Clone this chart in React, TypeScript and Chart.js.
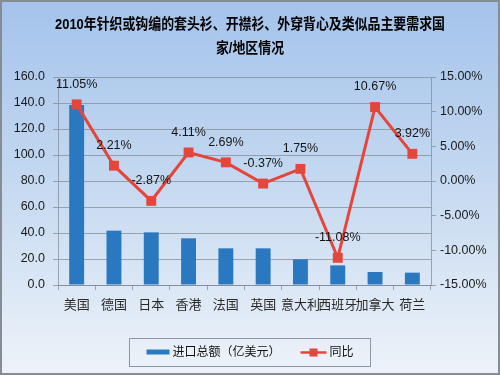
import React, { useEffect, useRef } from 'react';
import { Chart, registerables } from 'chart.js';

Chart.register(...registerables);

const titleLines = ['2010年针织或钩编的套头衫、开襟衫、外穿背心及类似品主要需求国', '家/地区情况'];
const categories = ['美国', '德国', '日本', '香港', '法国', '英国', '意大利', '西班牙', '加拿大', '荷兰'];
const importValues = [138.5, 41.8, 40.5, 35.9, 28.2, 28.2, 19.8, 15.1, 10.0, 9.5];
const yoyValues = [11.05, 2.21, -2.87, 4.11, 2.69, -0.37, 1.75, -11.08, 10.67, 3.92];
const seriesNames = ['进口总额（亿美元）', '同比'];
const leftAxis = { min: 0, max: 160, step: 20 };
const rightAxis = { min: -15, max: 15, step: 5 };

const FONT = "'Liberation Sans', 'Noto Sans CJK SC', sans-serif";
const BAR_COLOR = '#2a79c0';
const LINE_COLOR = '#e5463c';
const GRID_COLOR = 'rgba(125,135,148,0.7)';

const decorPlugin = {
  id: 'decor',
  beforeDraw(chart: any) {
    const { ctx, width, height } = chart;
    ctx.save();
    const g = ctx.createLinearGradient(0, 0, 0, height);
    g.addColorStop(0, '#a4c3eb');
    g.addColorStop(0.45, '#c2d7f0');
    g.addColorStop(1, '#eef3f9');
    ctx.fillStyle = g;
    ctx.fillRect(0, 0, width, height);
    ctx.restore();
  },
  afterDatasetsDraw(chart: any) {
    const { ctx } = chart;
    const meta = chart.getDatasetMeta(1);
    ctx.save();
    ctx.font = `12.5px ${FONT}`;
    ctx.fillStyle = '#151515';
    ctx.textAlign = 'center';
    ctx.textBaseline = 'middle';
    meta.data.forEach((pt: any, i: number) => {
      ctx.fillText(yoyValues[i].toFixed(2) + '%', pt.x, pt.y - 20);
    });
    ctx.restore();
  },
  afterDraw(chart: any) {
    const { ctx, width, height } = chart;
    ctx.save();
    // title
    ctx.fillStyle = '#000';
    ctx.textAlign = 'center';
    ctx.textBaseline = 'middle';
    ctx.font = `bold 15px ${FONT}`;
    const sx = 0.86;
    titleLines.forEach((line, i) => {
      ctx.save();
      ctx.translate(width / 2, 25 + i * 24);
      ctx.scale(sx, 1);
      ctx.fillText(line, 0, 0);
      ctx.restore();
    });
    // legend
    ctx.font = `12px ${FONT}`;
    ctx.textAlign = 'left';
    const w1 = ctx.measureText(seriesNames[0]).width;
    const w2 = ctx.measureText(seriesNames[1]).width;
    const sym1 = 23, sym2 = 26, gap = 3, itemGap = 20, padX = 17;
    const total = sym1 + gap + w1 + itemGap + sym2 + gap + w2;
    const boxW = total + padX * 2;
    const boxX = Math.round(width / 2 - boxW / 2) + 0.5;
    const boxY = 338.5;
    const boxH = 28;
    ctx.strokeStyle = '#8d97a3';
    ctx.lineWidth = 1;
    ctx.strokeRect(boxX, boxY, boxW, boxH);
    const cy = boxY + boxH / 2;
    let x = boxX + padX;
    ctx.fillStyle = BAR_COLOR;
    ctx.fillRect(x, cy - 3, sym1, 5);
    x += sym1 + gap;
    ctx.fillStyle = '#111';
    ctx.fillText(seriesNames[0], x, cy);
    x += w1 + itemGap;
    ctx.strokeStyle = LINE_COLOR;
    ctx.lineWidth = 2.5;
    ctx.beginPath();
    ctx.moveTo(x, cy);
    ctx.lineTo(x + sym2, cy);
    ctx.stroke();
    ctx.fillStyle = LINE_COLOR;
    ctx.fillRect(x + sym2 / 2 - 4, cy - 4, 8, 8);
    x += sym2 + gap;
    ctx.fillStyle = '#111';
    ctx.fillText(seriesNames[1], x, cy);
    // outer border
    ctx.strokeStyle = '#868c94';
    ctx.lineWidth = 2;
    ctx.strokeRect(1, 1, width - 2, height - 2);
    ctx.restore();
  },
};

export default function App() {
  const ref = useRef<HTMLCanvasElement | null>(null);
  useEffect(() => {
    document.body.style.margin = '0';
    const canvas = ref.current;
    if (!canvas) return;
    const chart = new Chart(canvas, {
      type: 'bar',
      data: {
        labels: categories,
        datasets: [
          {
            type: 'bar',
            label: seriesNames[0],
            data: importValues,
            backgroundColor: BAR_COLOR,
            yAxisID: 'y',
            categoryPercentage: 0.8,
            barPercentage: 0.5,
            order: 2,
          },
          {
            type: 'line',
            label: seriesNames[1],
            data: yoyValues,
            borderColor: LINE_COLOR,
            backgroundColor: LINE_COLOR,
            borderWidth: 3,
            pointStyle: 'rect',
            pointRadius: 7,
            pointBorderWidth: 0,
            yAxisID: 'y1',
            order: 1,
          },
        ],
      },
      options: {
        responsive: false,
        animation: false,
        layout: { padding: { top: 77, bottom: 60, left: 0, right: 0 } },
        plugins: {
          legend: { display: false },
          title: { display: false },
          tooltip: { enabled: false },
        },
        scales: {
          x: {
            grid: { offset: true, drawOnChartArea: false, tickLength: 5, color: GRID_COLOR },
            border: { color: GRID_COLOR },
            ticks: { font: { family: FONT, size: 13 }, color: '#2a2a2a', padding: 8, maxRotation: 0, autoSkip: false },
            afterFit: (s: any) => { s.height = 30; },
          },
          y: {
            position: 'left',
            min: leftAxis.min,
            max: leftAxis.max,
            ticks: {
              stepSize: leftAxis.step,
              font: { family: FONT, size: 12.5 },
              color: '#1a1a1a',
              padding: 8,
              callback: (v: any) => Number(v).toFixed(1),
            },
            grid: { color: GRID_COLOR, tickLength: 5 },
            border: { color: GRID_COLOR },
            afterFit: (s: any) => { s.width = 58; },
          },
          y1: {
            position: 'right',
            min: rightAxis.min,
            max: rightAxis.max,
            ticks: {
              stepSize: rightAxis.step,
              font: { family: FONT, size: 12.5 },
              color: '#1a1a1a',
              padding: 4,
              callback: (v: any) => Number(v).toFixed(2) + '%',
            },
            grid: { drawOnChartArea: false, color: GRID_COLOR, tickLength: 5 },
            border: { color: GRID_COLOR },
            afterFit: (s: any) => { s.width = 69; },
          },
        },
      } as any,
      plugins: [decorPlugin],
    });
    return () => chart.destroy();
  }, []);
  return <canvas ref={ref} width={500} height={375} style={{ display: 'block' }} />;
}
